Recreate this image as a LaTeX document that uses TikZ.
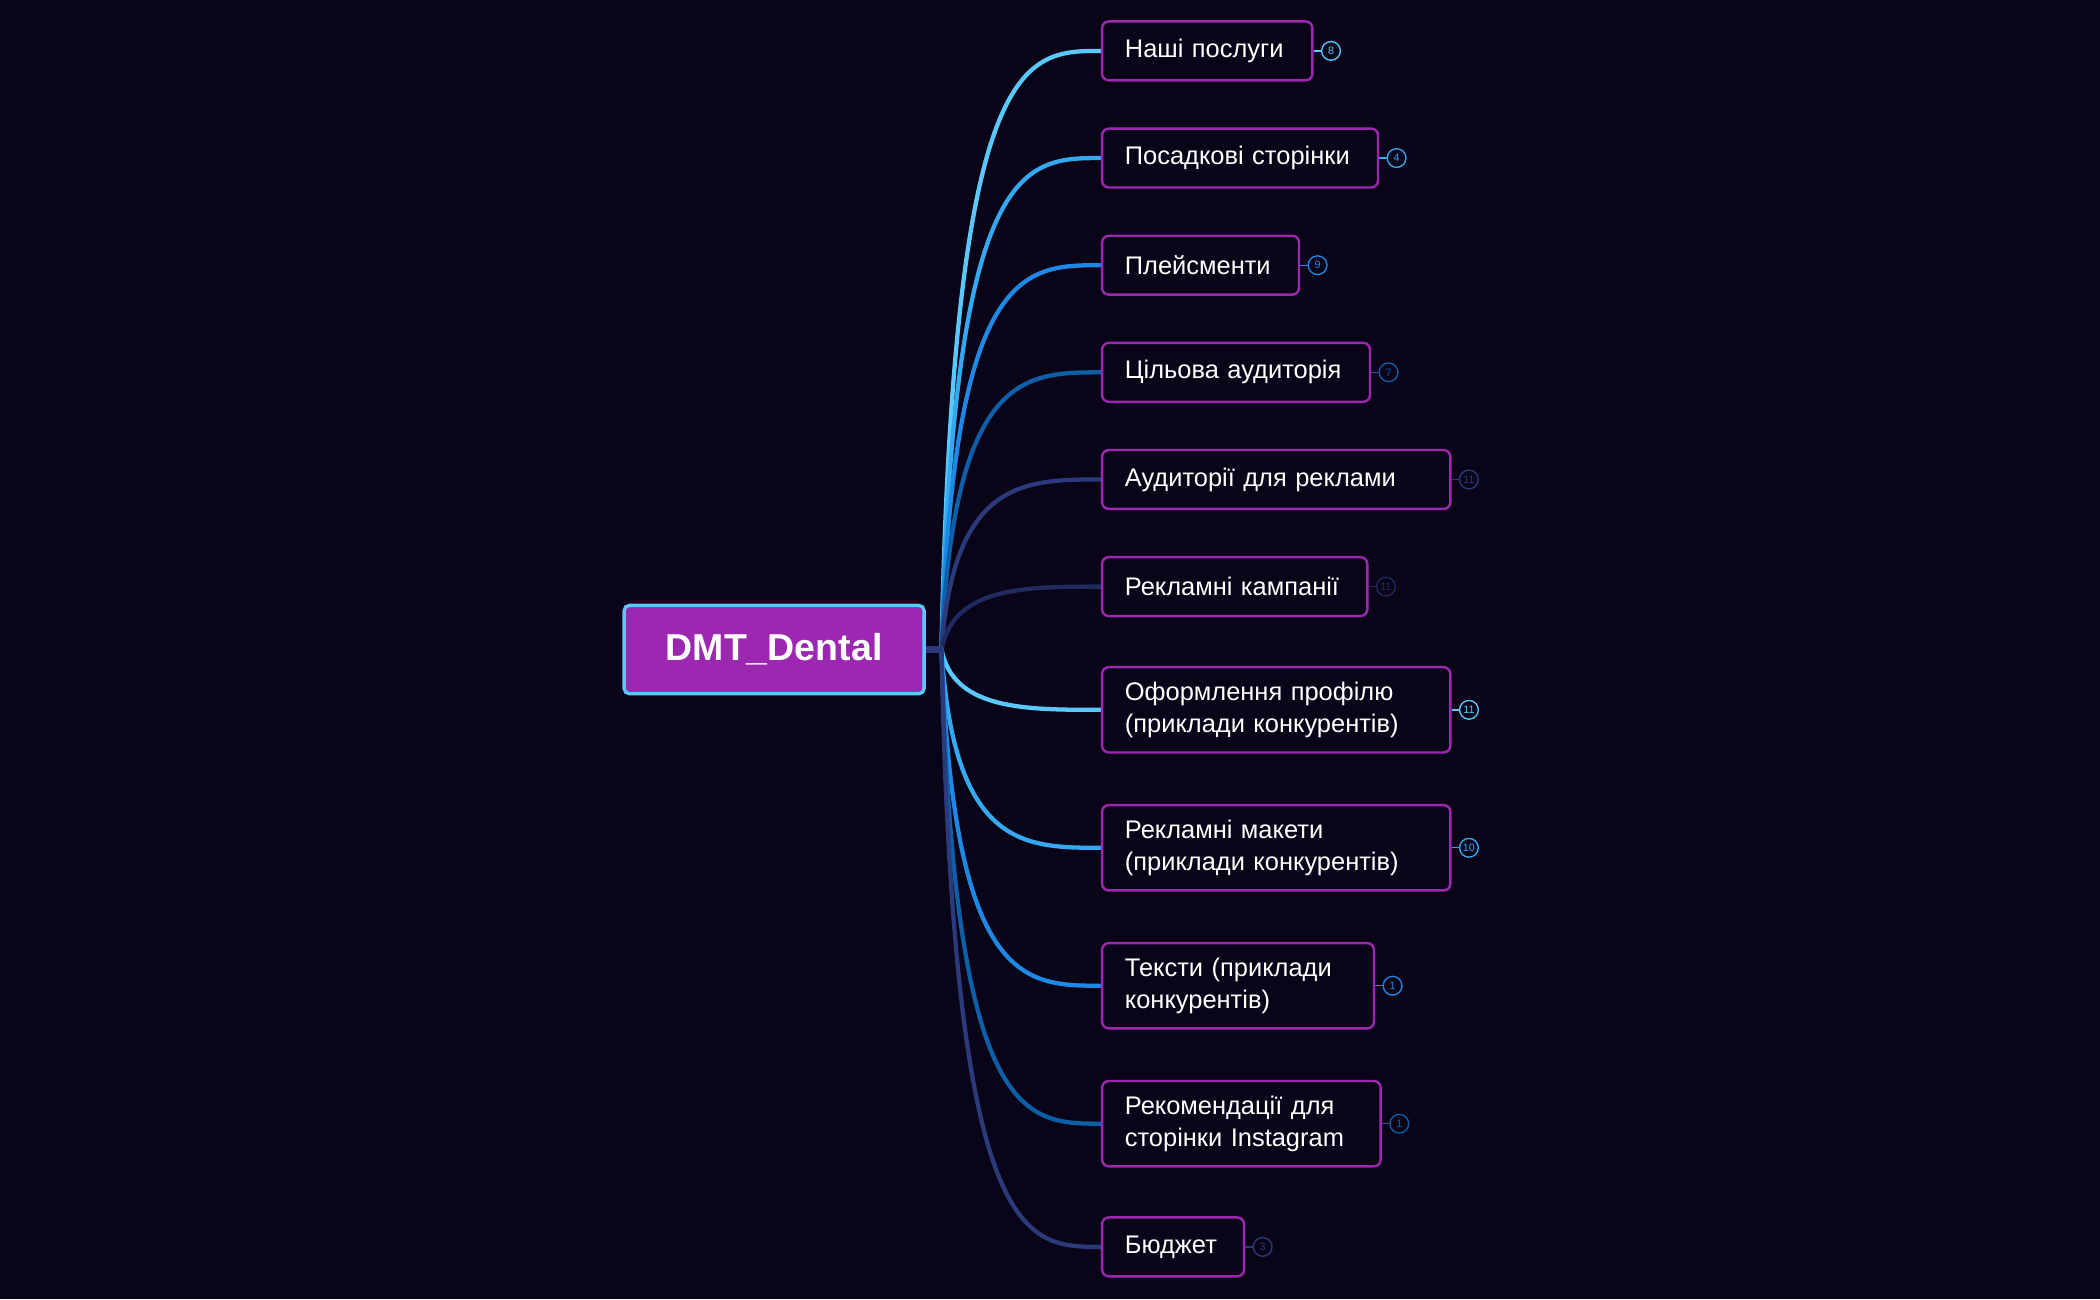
\documentclass[tikz,border=0pt]{standalone}
\usepackage{fontspec}
\setmainfont{Liberation Sans}
\begin{document}
\begin{tikzpicture}[x=1pt,y=-1pt,
  child/.style={draw=cpurple,line width=1.8pt,rounded corners=5pt,fill=bg,text=white,align=left,anchor=west,inner xsep=17pt,inner ysep=11pt,minimum height=44pt,font=\fontsize{19}{24}\selectfont},
  badge/.style={circle,draw,line width=1pt,inner sep=0pt,minimum size=14pt,font=\fontsize{8}{8}\selectfont},
  conn/.style={line width=3.2pt,line cap=round}]
\definecolor{bg}{HTML}{0A0418}
\definecolor{cpurple}{HTML}{9C27B0}
\definecolor{ca}{HTML}{5AC8FA}
\definecolor{cb}{HTML}{34A8F0}
\definecolor{cc}{HTML}{1E88E5}
\definecolor{cd}{HTML}{0D5FA8}
\definecolor{ce}{HTML}{2B3A7A}
\definecolor{cf}{HTML}{1F2A5E}
\fill[bg] (0,0) rectangle (1568,970);
\useasboundingbox (0,0) rectangle (1568,970);
\coordinate (r) at (703,485);
\foreach \y/\c/\w/\n/\t [count=\i] in {
 38/ca/157/8/{Наші послуги},
 118/cb/206/4/{Посадкові сторінки},
 198/cc/147/9/{Плейсменти},
 278/cd/200/7/{Цільова аудиторія},
 358/ce/260/11/{Аудиторії для реклами},
 438/cf/198/11/{Рекламні кампанії},
 530/ca/260/11/{Оформлення профілю\\(приклади конкурентів)},
 633/cb/260/10/{Рекламні макети\\(приклади конкурентів)},
 736/cc/203/1/{Тексти (приклади\\конкурентів)},
 839/cd/208/1/{Рекомендації для\\сторінки Instagram},
 931/ce/106/3/{Бюджет}}{
 \coordinate (s\i) at (822,\y);
 \draw[conn,draw=\c] (r) .. controls (712,\y) and (765,\y) .. (s\i);
 \node[child,text width={\w-34},minimum width=\w] (n\i) at (s\i) {\t};
 \node[badge,draw=\c,text=\c] (b\i) at ([xshift=13pt]n\i.east) {\n};
 \draw[\c,line width=1pt] (n\i.east) -- (b\i);
}
\node[draw=ca,line width=2.5pt,fill=cpurple,rounded corners=4pt,minimum width=224pt,minimum height=66pt,text=white,font=\fontsize{28}{30}\selectfont\bfseries] (root) at (578,485) {DMT\_Dental};
\draw[ce,line width=5pt] (root.east) -- (r);
\end{tikzpicture}
\end{document}
